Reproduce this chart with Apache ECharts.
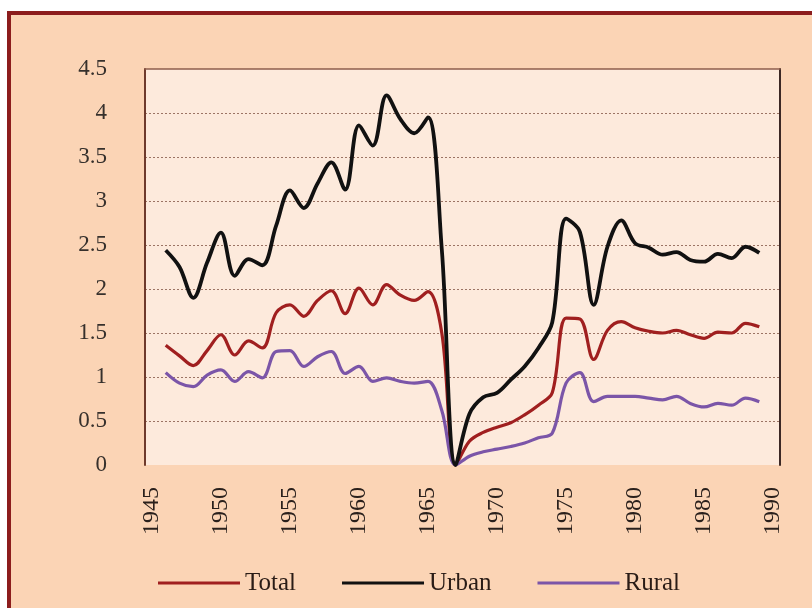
<!DOCTYPE html>
<html lang="en">
<head>
    <meta charset="UTF-8">
    <title>Total, Urban and Rural</title>
    <script src="https://cdn.jsdelivr.net/npm/echarts@6.0.0/dist/echarts.min.js"></script>
    <style>
        body {
            margin: 0;
            background-color: #ffffff;
        }

        #frame {
            position: absolute;
            left: 7px;
            top: 11px;
            width: 830px;
            height: 620px;
            border-left: 4px solid #8c1d1d;
            border-top: 4px solid #8c1d1d;
            background-color: #fbd4b5;
        }

        #chart {
            position: absolute;
            left: 0;
            top: 0;
            width: 812px;
            height: 608px;
        }
    </style>
</head>
<body>
    <div id="frame"></div>
    <div id="chart"></div>

    <script>
        // axis categories (tick labels every 5 years)
        var categories = ["1945", "1946", "1947", "1948", "1949", "1950", "1951", "1952", "1953", "1954",
            "1955", "1956", "1957", "1958", "1959", "1960", "1961", "1962", "1963", "1964",
            "1965", "1966", "1967", "1968", "1969", "1970", "1971", "1972", "1973", "1974",
            "1975", "1976", "1977", "1978", "1979", "1980", "1981", "1982", "1983", "1984",
            "1985", "1986", "1987", "1988", "1989", "1990"];

        // years that carry data
        var years = ["1946", "1947", "1948", "1949", "1950", "1951", "1952", "1953", "1954",
            "1955", "1956", "1957", "1958", "1959", "1960", "1961", "1962", "1963", "1964",
            "1965", "1966", "1967", "1968", "1969", "1970", "1971", "1972", "1973", "1974",
            "1975", "1976", "1977", "1978", "1979", "1980", "1981", "1982", "1983", "1984",
            "1985", "1986", "1987", "1988", "1989"];

        var total = [1.36, 1.24, 1.13, 1.30, 1.48, 1.25, 1.41, 1.33, 1.73,
            1.82, 1.69, 1.87, 1.98, 1.72, 2.01, 1.82, 2.05, 1.93, 1.87,
            1.97, 1.50, 0, 0.27, 0.37, 0.43, 0.48, 0.57, 0.68, 0.82,
            1.67, 1.66, 1.20, 1.53, 1.63, 1.56, 1.52, 1.50, 1.53, 1.48,
            1.44, 1.51, 1.50, 1.61, 1.57];

        var urban = [2.44, 2.25, 1.90, 2.30, 2.64, 2.15, 2.34, 2.27, 2.72,
            3.12, 2.92, 3.20, 3.44, 3.13, 3.86, 3.63, 4.20, 3.93, 3.77,
            3.95, 2.45, 0, 0.58, 0.77, 0.82, 0.97, 1.12, 1.33, 1.62,
            2.80, 2.65, 1.82, 2.48, 2.78, 2.52, 2.47, 2.39, 2.42, 2.33,
            2.31, 2.40, 2.35, 2.48, 2.41];

        var rural = [1.05, 0.93, 0.89, 1.02, 1.08, 0.95, 1.06, 0.99, 1.29,
            1.30, 1.12, 1.23, 1.29, 1.04, 1.12, 0.95, 0.99, 0.95, 0.93,
            0.95, 0.62, 0, 0.10, 0.15, 0.18, 0.21, 0.25, 0.31, 0.36,
            0.93, 1.05, 0.72, 0.78, 0.78, 0.78, 0.76, 0.74, 0.78, 0.70,
            0.66, 0.70, 0.68, 0.76, 0.72];

        function pairs(values) {
            return years.map(function (y, i) { return [y, values[i]]; });
        }

        function lineSeries(name, values, color, width) {
            return {
                name: name,
                type: "line",
                data: pairs(values),
                smooth: 0.35,
                symbol: "none",
                lineStyle: { color: color, width: width },
                itemStyle: { color: color }
            };
        }

        var serif = "'Liberation Serif', 'Times New Roman', serif";

        var option = {
            animation: false,
            backgroundColor: "transparent",
            grid: {
                left: 145,
                right: 32,
                top: 69,
                bottom: 143,
                show: true,
                backgroundColor: "#fdeadc",
                borderWidth: 0
            },
            xAxis: [
                {
                    type: "category",
                    data: categories,
                    boundaryGap: true,
                    axisLine: { show: false },
                    axisTick: { show: false },
                    axisLabel: {
                        interval: 4,
                        rotate: 90,
                        margin: 22,
                        fontFamily: serif,
                        fontSize: 24,
                        color: "#2a201c"
                    }
                },
                {
                    // top border of the plot area
                    type: "category",
                    data: categories,
                    position: "top",
                    axisLine: { show: true, onZero: false, lineStyle: { color: "#8e5e4c", width: 1.5 } },
                    axisTick: { show: false },
                    axisLabel: { show: false }
                }
            ],
            yAxis: [
                {
                    type: "value",
                    min: 0,
                    max: 4.5,
                    interval: 0.5,
                    axisLine: { show: true, lineStyle: { color: "#6e3a2c", width: 2 } },
                    axisTick: { show: false },
                    axisLabel: {
                        margin: 38,
                        fontFamily: serif,
                        fontSize: 23,
                        color: "#36302c"
                    },
                    splitLine: {
                        show: true,
                        showMinLine: false,
                        showMaxLine: false,
                        lineStyle: { color: "#9c7464", width: 1, type: [2, 2] }
                    }
                },
                {
                    // right border of the plot area
                    type: "value",
                    min: 0,
                    max: 4.5,
                    interval: 0.5,
                    position: "right",
                    axisLine: { show: true, onZero: false, lineStyle: { color: "#3c2824", width: 2 } },
                    axisTick: { show: false },
                    axisLabel: { show: false },
                    splitLine: { show: false }
                }
            ],
            legend: {
                data: ["Total", "Urban", "Rural"],
                icon: "rect",
                left: 153,
                top: 564,
                itemWidth: 82,
                itemHeight: 3,
                itemGap: 46,
                textStyle: {
                    fontFamily: serif,
                    fontSize: 25,
                    color: "#2a1c16",
                    lineHeight: 28
                }
            },
            series: [
                lineSeries("Total", total, "#a01f1f", 3.2),
                lineSeries("Rural", rural, "#7b55a8", 3.2),
                lineSeries("Urban", urban, "#111111", 3.8)
            ]
        };

        var myChart = echarts.init(document.getElementById("chart"));
        myChart.setOption(option);
    </script>
</body>
</html>
